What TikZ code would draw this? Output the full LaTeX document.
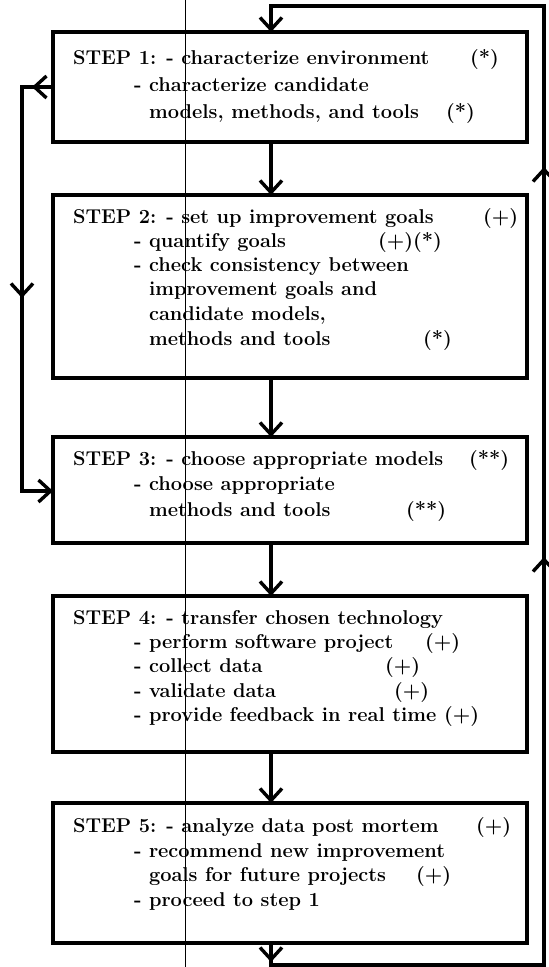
\documentclass[tikz,border=0pt]{standalone}
\usetikzlibrary{arrows.meta,decorations.markings}
\tikzset{
  box/.style={draw, line width=3.8pt, minimum width=474pt, anchor=north west, inner sep=0pt, outer sep=0pt},
  txt/.style={anchor=base west, inner sep=0pt, outer sep=0pt, font=\fontsize{20}{24}\selectfont\bfseries},
  conn/.style={line width=3.6pt, ->},
  loopline/.style={line width=3.6pt, line join=miter, ->},
}
\begin{document}
\begin{tikzpicture}[x=1pt,y=-1pt,>={Straight Barb[length=12pt,width=22pt,line width=3.4pt]}]
\useasboundingbox (0,0) rectangle (549,967);
% scan line
\draw[line width=0.7pt] (185,0) -- (185,967);
% boxes
\node[box, minimum height=110pt] (b1) at (53,32) {};
\node[box, minimum height=183pt] (b2) at (53,195) {};
\node[box, minimum height=106pt] (b3) at (53,437) {};
\node[box, minimum height=156pt] (b4) at (53,596) {};
\node[box, minimum height=140pt] (b5) at (53,803) {};
% box 1
\node[txt] (t11) at (73,64) {STEP 1: - characterize environment};
\node[txt] (a11) at (470,64) {(*)};
\node[txt] (t12) at (134,91) {- characterize candidate};
\node[txt] (t13) at (149,118) {models, methods, and tools};
\node[txt] (a13) at (446,118) {(*)};
% box 2
\node[txt] (t21) at (73,223) {STEP 2: - set up improvement goals};
\node[txt] (a21) at (483,223) {(+)};
\node[txt] (t22) at (134,247) {- quantify goals};
\node[txt] (a22) at (378,247) {(+)(*)};
\node[txt] (t23) at (134,271) {- check consistency between};
\node[txt] (t24) at (149,295) {improvement goals and};
\node[txt] (t25) at (149,320) {candidate models,};
\node[txt] (t26) at (149,345) {methods and tools};
\node[txt] (a26) at (423,345) {(*)};
% box 3
\node[txt] (t31) at (73,465) {STEP 3: - choose appropriate models};
\node[txt] (a31) at (469,465) {(**)};
\node[txt] (t32) at (134,490) {- choose appropriate};
\node[txt] (t33) at (149,516) {methods and tools};
\node[txt] (a33) at (406,516) {(**)};
% box 4
\node[txt] (t41) at (73,624) {STEP 4: - transfer chosen technology};
\node[txt] (t42) at (134,648) {- perform software project};
\node[txt] (a42) at (425,648) {(+)};
\node[txt] (t43) at (134,672) {- collect data};
\node[txt] (a43) at (385,672) {(+)};
\node[txt] (t44) at (134,697) {- validate data};
\node[txt] (a44) at (394,697) {(+)};
\node[txt] (t45) at (134,721) {- provide feedback in real time};
\node[txt] (a45) at (444,721) {(+)};
% box 5
\node[txt] (t51) at (73,832) {STEP 5: - analyze data post mortem};
\node[txt] (a51) at (476,832) {(+)};
\node[txt] (t52) at (134,857) {- recommend new improvement};
\node[txt] (t53) at (149,881) {goals for future projects};
\node[txt] (a53) at (416,881) {(+)};
\node[txt] (t54) at (134,906) {- proceed to step 1};
% connectors
\coordinate (ax) at (271,0);
\draw[conn] (b1.south -| ax) -- (b2.north -| ax);
\draw[conn] (b2.south -| ax) -- (b3.north -| ax);
\draw[conn] (b3.south -| ax) -- (b4.north -| ax);
\draw[conn] (b4.south -| ax) -- (b5.north -| ax);
% left loop
\coordinate (lt) at (22,87);
\coordinate (lb) at (22,491);
\draw[loopline, decoration={markings, mark=at position 21pt with {\arrow{>}}, mark=at position 242pt with {\arrow{>}}}, postaction={decorate}]
  (b1.west |- lt) -- (lt) -- (lb) -- (b3.west |- lb);
% right loop
\coordinate (rb) at (544,965);
\coordinate (rt) at (544,6);
\draw[loopline, decoration={markings, mark=at position 19pt with {\arrow{>}}, mark=at position 703pt with {\arrow{>}}, mark=at position 1093pt with {\arrow{>}}}, postaction={decorate}]
  (b5.south -| ax) -- (ax |- rb) -- (rb) -- (rt) -- (ax |- rt) -- (b1.north -| ax);
\end{tikzpicture}
\end{document}
